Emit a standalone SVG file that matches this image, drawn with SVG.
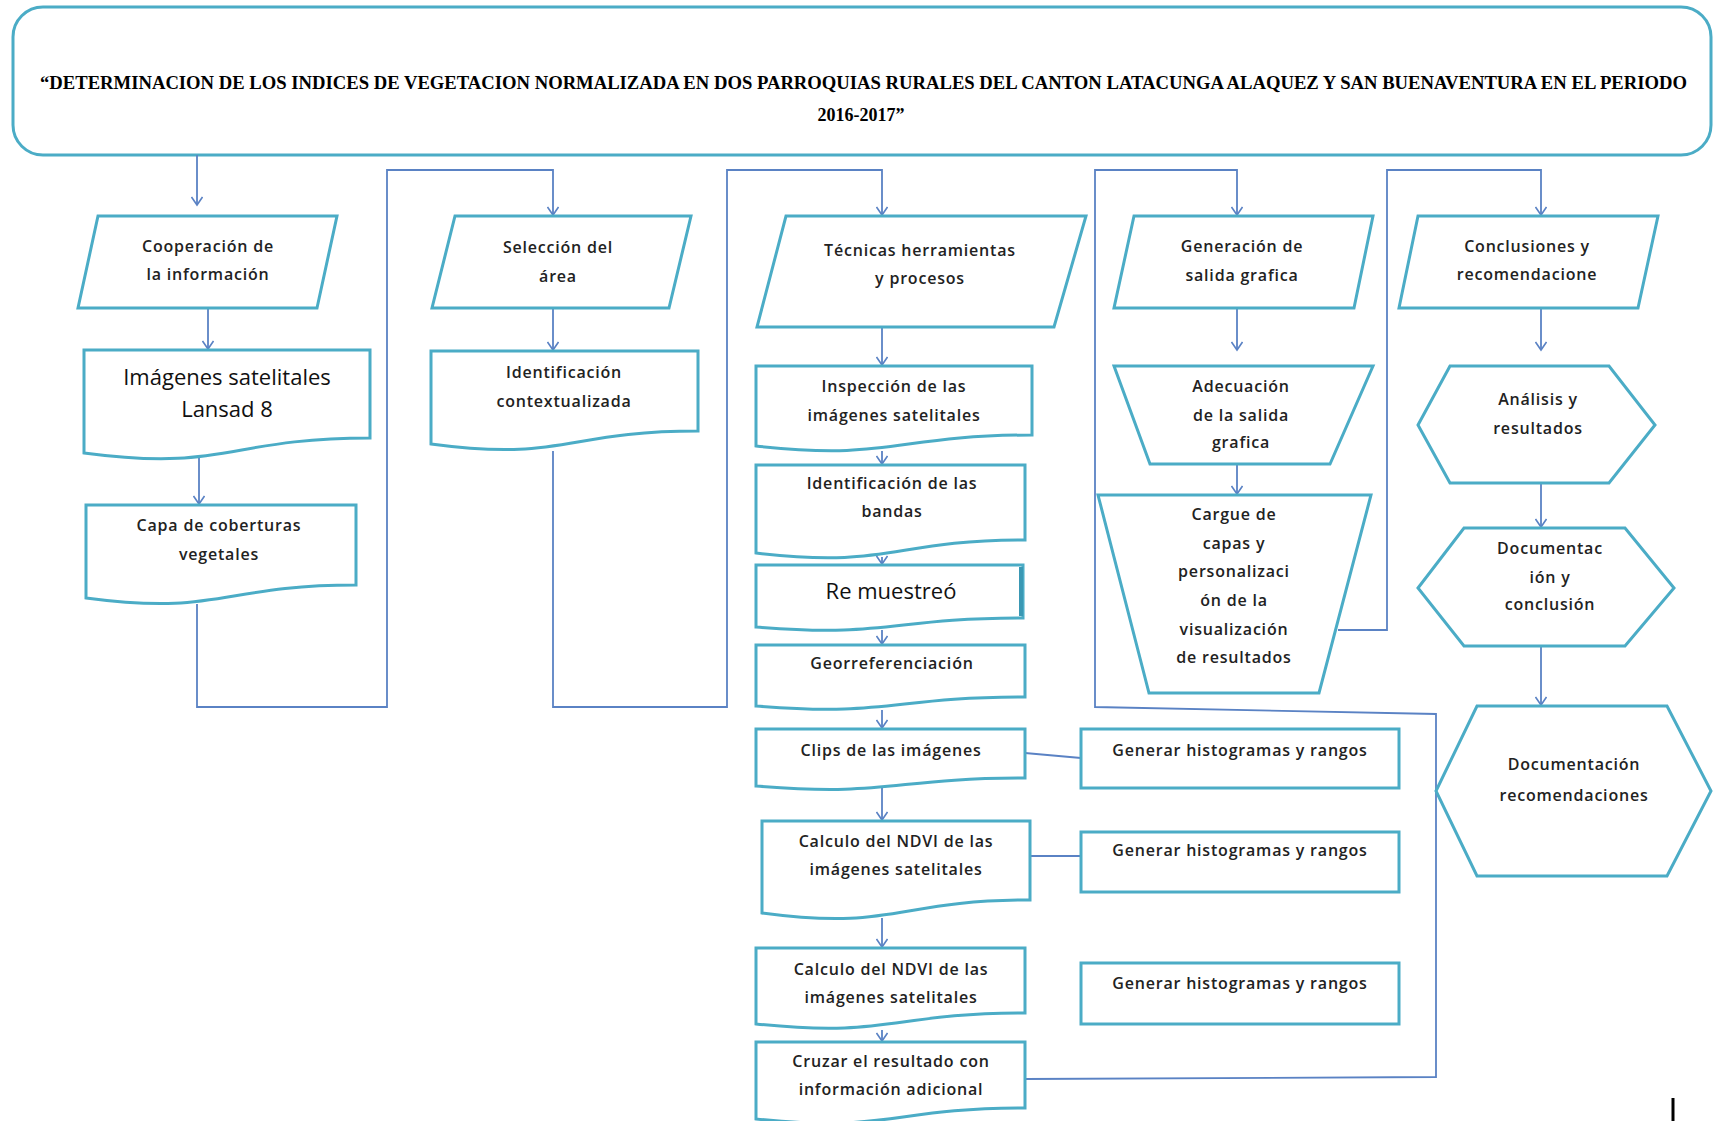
<svg xmlns="http://www.w3.org/2000/svg" width="1716" height="1121" viewBox="0 0 1716 1121">
<defs>
<style>
.n{fill:#fff;stroke:#4bacc6;stroke-width:3;stroke-linejoin:miter}
.c{fill:none;stroke:#5a82c4;stroke-width:1.8}
.t{font-family:"Open Sans","Liberation Sans",sans-serif;font-size:16px;font-weight:600;fill:#222;letter-spacing:0.8px;text-anchor:middle}
.big{font-family:"Open Sans","Liberation Sans",sans-serif;font-size:22px;font-weight:400;fill:#111;text-anchor:middle}
.title{font-family:"Liberation Serif","Times New Roman",serif;font-size:18px;font-weight:700;fill:#000}
</style>
<marker id="ah" markerWidth="12" markerHeight="12" refX="10" refY="6" orient="auto" markerUnits="userSpaceOnUse">
<path d="M2,0.5 L10,6 L2,11.5" fill="none" stroke="#5a82c4" stroke-width="1.6"/>
</marker>
</defs>
<rect width="1716" height="1121" fill="#fff"/>

<g id="title">
<rect class="n" x="13" y="7" width="1698" height="148" rx="30"/>
<text class="title" x="40" y="89" textLength="1647" lengthAdjust="spacingAndGlyphs">“DETERMINACION DE LOS INDICES DE VEGETACION NORMALIZADA EN  DOS PARROQUIAS RURALES DEL CANTON LATACUNGA ALAQUEZ Y SAN BUENAVENTURA EN EL PERIODO</text>
<text class="title" x="861" y="121" text-anchor="middle">2016-2017”</text>
</g>

<g id="connectors">
<path class="c" d="M197,155 V205" marker-end="url(#ah)"/>
<path class="c" d="M208,308 V349" marker-end="url(#ah)"/>
<path class="c" d="M199,457 V504" marker-end="url(#ah)"/>
<path class="c" d="M197,604 V707 H387 V170 H553 V215" marker-end="url(#ah)"/>
<path class="c" d="M553,308 V350" marker-end="url(#ah)"/>
<path class="c" d="M553,451 V707 H727 V170 H882 V215" marker-end="url(#ah)"/>
<path class="c" d="M882,327 V365" marker-end="url(#ah)"/>
<path class="c" d="M882,451 V464" marker-end="url(#ah)"/>
<path class="c" d="M882,557 V564" marker-end="url(#ah)"/>
<path class="c" d="M882,630 V644" marker-end="url(#ah)"/>
<path class="c" d="M882,710 V728" marker-end="url(#ah)"/>
<path class="c" d="M1025,753 L1081,758"/>
<path class="c" d="M882,788 V820" marker-end="url(#ah)"/>
<path class="c" d="M1030,856 H1081"/>
<path class="c" d="M882,918 V947" marker-end="url(#ah)"/>
<path class="c" d="M882,1030 V1041" marker-end="url(#ah)"/>
<path class="c" d="M1025,1079 L1436,1077 V714 L1095,707 V170 H1237 V215" marker-end="url(#ah)"/>
<path class="c" d="M1237,308 V350" marker-end="url(#ah)"/>
<path class="c" d="M1237,464 V494" marker-end="url(#ah)"/>
<path class="c" d="M1338,630 H1387 V170 H1541 V215" marker-end="url(#ah)"/>
<path class="c" d="M1541,308 V350" marker-end="url(#ah)"/>
<path class="c" d="M1541,483 V527" marker-end="url(#ah)"/>
<path class="c" d="M1541,646 V705" marker-end="url(#ah)"/>
</g>

<g id="p1">
<polygon class="n" points="98,216 337,216 317,308 78,308"/>
<text class="t" x="208" y="252">Cooperación  de</text>
<text class="t" x="208" y="280">la información</text>
</g>
<g id="d1">
<path class="n" d="M84,350 H370 V438 C227,438 227,472 84,453 Z"/>
<text class="big" x="227" y="385">Imágenes  satelitales</text>
<text class="big" x="227" y="417">Lansad 8</text>
</g>
<g id="d2">
<path class="n" d="M86,505 H356 V585 C221,585 221,616 86,598 Z"/>
<text class="t" x="219" y="531">Capa de coberturas</text>
<text class="t" x="219" y="560">vegetales</text>
</g>

<g id="p2">
<polygon class="n" points="455,216 691,216 669,308 432,308"/>
<text class="t" x="558" y="253">Selección del</text>
<text class="t" x="558" y="282">área</text>
</g>
<g id="d3">
<path class="n" d="M431,351 H698 V431 C565,431 565,462 431,444 Z"/>
<text class="t" x="564" y="378">Identificación</text>
<text class="t" x="564" y="407">contextualizada</text>
</g>

<g id="p3">
<polygon class="n" points="786,216 1086,216 1054,327 757,327"/>
<text class="t" x="920" y="256">Técnicas  herramientas</text>
<text class="t" x="920" y="284">y procesos</text>
</g>
<g id="d4">
<path class="n" d="M756,366 H1032 V435 C894,435 894,461 756,446 Z"/>
<text class="t" x="894" y="392">Inspección  de las</text>
<text class="t" x="894" y="421">imágenes satelitales</text>
</g>
<g id="d5">
<path class="n" d="M756,465 H1025 V540 C891,540 891,569 756,553 Z"/>
<text class="t" x="892" y="489">Identificación   de las</text>
<text class="t" x="892" y="517">bandas</text>
</g>
<g id="d6">
<path class="n" d="M756,565 H1023 V618 C890,618 890,638 756,627 Z"/>
<line x1="1021" y1="567" x2="1021" y2="616" stroke="#3a98b4" stroke-width="4"/>
<text class="big" x="891" y="599">Re muestreó</text>
</g>
<g id="d7">
<path class="n" d="M756,645 H1025 V697 C891,697 891,717 756,706 Z"/>
<text class="t" x="892" y="669">Georreferenciación</text>
</g>
<g id="d8">
<path class="n" d="M756,729 H1025 V778 C891,778 891,797 756,786 Z"/>
<text class="t" x="891" y="756">Clips  de las imágenes</text>
</g>
<g id="d9">
<path class="n" d="M762,821 H1030 V900 C896,900 896,931 762,913 Z"/>
<text class="t" x="896" y="847">Calculo  del  NDVI de las</text>
<text class="t" x="896" y="875">imágenes satelitales</text>
</g>
<g id="d10">
<path class="n" d="M756,948 H1025 V1013 C891,1013 891,1038 756,1024 Z"/>
<text class="t" x="891" y="975">Calculo  del  NDVI de las</text>
<text class="t" x="891" y="1003">imágenes satelitales</text>
</g>
<g id="d11">
<path class="n" d="M756,1042 H1025 V1108 C891,1108 891,1133 756,1119 Z"/>
<text class="t" x="891" y="1067">Cruzar el resultado  con</text>
<text class="t" x="891" y="1095">información  adicional</text>
</g>

<g id="r1">
<rect class="n" x="1081" y="729" width="318" height="59"/>
<text class="t" x="1240" y="756">Generar histogramas  y rangos</text>
</g>
<g id="r2">
<rect class="n" x="1081" y="832" width="318" height="60"/>
<text class="t" x="1240" y="856">Generar histogramas  y rangos</text>
</g>
<g id="r3">
<rect class="n" x="1081" y="963" width="318" height="61"/>
<text class="t" x="1240" y="989">Generar histogramas  y rangos</text>
</g>

<g id="p4">
<polygon class="n" points="1134,216 1373,216 1354,308 1114,308"/>
<text class="t" x="1242" y="252">Generación  de</text>
<text class="t" x="1242" y="281">salida grafica</text>
</g>
<g id="t1">
<polygon class="n" points="1114,366 1373,366 1330,464 1150,464"/>
<text class="t" x="1241" y="392">Adecuación</text>
<text class="t" x="1241" y="421">de la salida</text>
<text class="t" x="1241" y="448">grafica</text>
</g>
<g id="t2">
<polygon class="n" points="1098,495 1371,495 1319,693 1149,693"/>
<text class="t" x="1234" y="520">Cargue  de</text>
<text class="t" x="1234" y="549">capas y</text>
<text class="t" x="1234" y="577">personalizaci</text>
<text class="t" x="1234" y="606">ón de la</text>
<text class="t" x="1234" y="635">visualización</text>
<text class="t" x="1234" y="663">de resultados</text>
</g>

<g id="p5">
<polygon class="n" points="1418,216 1658,216 1638,308 1399,308"/>
<text class="t" x="1527" y="252">Conclusiones  y</text>
<text class="t" x="1527" y="280">recomendacione</text>
</g>
<g id="h1">
<polygon class="n" points="1418,425 1450,366 1609,366 1655,425 1609,483 1450,483"/>
<text class="t" x="1538" y="405">Análisis  y</text>
<text class="t" x="1538" y="434">resultados</text>
</g>
<g id="h2">
<polygon class="n" points="1418,588 1464,528 1625,528 1674,588 1625,646 1464,646"/>
<text class="t" x="1550" y="554">Documentac</text>
<text class="t" x="1550" y="583">ión y</text>
<text class="t" x="1550" y="610">conclusión</text>
</g>
<g id="h3">
<polygon class="n" points="1436,791 1477,706 1667,706 1711,791 1667,876 1477,876"/>
<text class="t" x="1574" y="770">Documentación</text>
<text class="t" x="1574" y="801">recomendaciones</text>
</g>

<line x1="1673" y1="1098" x2="1673" y2="1121" stroke="#000" stroke-width="3"/>
</svg>
